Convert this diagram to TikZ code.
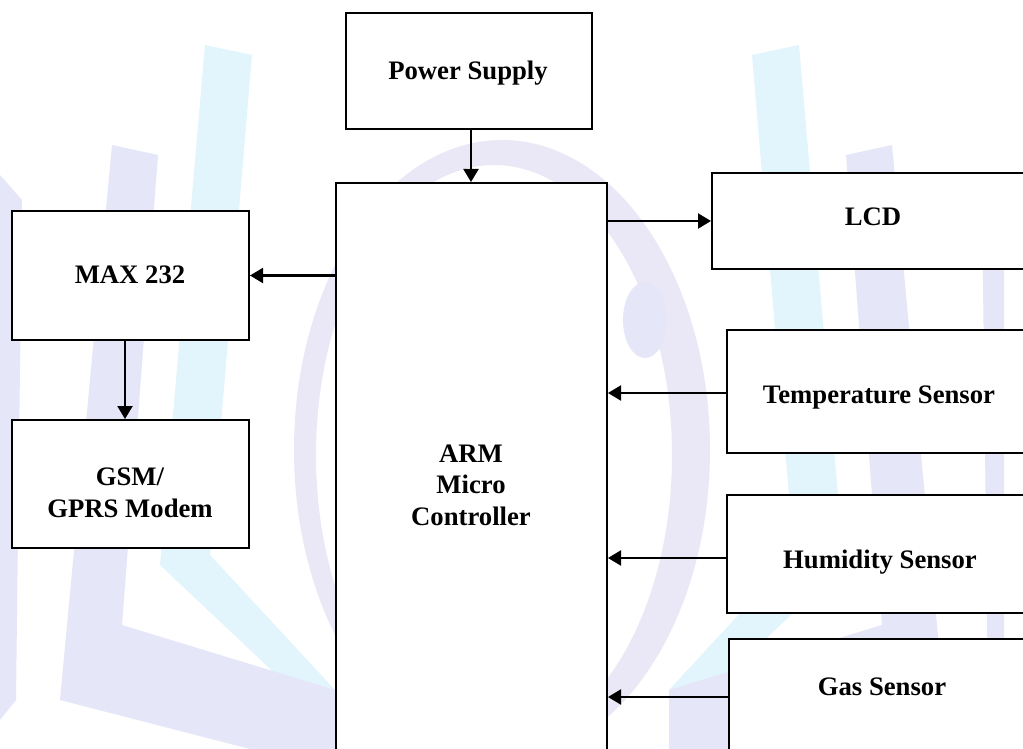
\documentclass[tikz,border=0pt]{standalone}
\usepackage{fontspec}
\setmainfont{Liberation Serif}
\usetikzlibrary{arrows.meta}
\definecolor{wmlav}{RGB}{230,230,249}
\definecolor{wmcyan}{RGB}{226,245,252}
\definecolor{wmring}{RGB}{234,232,246}
\begin{document}
\begin{tikzpicture}[x=1pt,y=-1pt,
  blk/.style={draw=black, line width=2pt, fill=white, rectangle, inner sep=0pt},
  lbl/.style={font=\fontsize{26.7}{31.5}\selectfont\bfseries, align=center, inner sep=0pt, anchor=base},
  conn/.style={line width=2.2pt, -{Triangle[length=13pt,width=15pt]}}]
\clip (0,0) rectangle (1023,749);
\fill[white] (0,0) rectangle (1023,749);
% watermark (faint logo)
\foreach \mir in {0,1}{
  \begin{scope}[shift={(1004*\mir,0)}, xscale={1-2*\mir}]
    \fill[wmcyan] (205,45) -- (252,55) -- (210,555) -- (335,690) -- (335,730) -- (160,565) -- cycle;
    \fill[wmlav] (112,145) -- (158,155) -- (122,625) -- (335,690) -- (335,749) -- (250,749) -- (60,700) -- cycle;
    \fill[wmlav] (0,175) -- (22,200) -- (16,700) -- (0,720) -- cycle;
  \end{scope}
}
\fill[wmring, even odd rule] (502,450) ellipse [x radius=208, y radius=310]
                             (494,455) ellipse [x radius=178, y radius=290];
\fill[wmlav] (645,320) ellipse [x radius=22, y radius=38];
% blocks
\node[blk, minimum width=246pt, minimum height=116pt] (ps) at (469,71) {};
\node[blk, minimum width=271pt, minimum height=597pt] (arm) at (471.5,481.5) {};
\node[blk, minimum width=328pt, minimum height=96pt] (lcd) at (876,221) {};
\node[blk, minimum width=237pt, minimum height=129pt] (max) at (130.5,275.5) {};
\node[blk, minimum width=237pt, minimum height=128pt] (gsm) at (130.5,484) {};
\node[blk, minimum width=313pt, minimum height=123pt] (temp) at (883.5,391.5) {};
\node[blk, minimum width=313pt, minimum height=118pt] (hum) at (883.5,554) {};
\node[blk, minimum width=311pt, minimum height=141pt] (gas) at (884.5,709.5) {};
% labels (multi-line labels: base is the last line)
\node[lbl] (pst) at (468,80) {Power Supply};
\node[lbl] (armt) at (471,525) {ARM\\Micro\\Controller};
\node[lbl] (lcdt) at (873,225) {LCD};
\node[lbl] (maxt) at (130,283) {MAX 232};
\node[lbl] (gsmt) at (130,517) {GSM/\\GPRS Modem};
\node[lbl] (tempt) at (879,403) {Temperature Sensor};
\node[lbl] (humt) at (880,568) {Humidity Sensor};
\node[lbl] (gast) at (882,695) {Gas Sensor};
% connector end points
\coordinate (pso) at ([xshift=2pt]ps.south);
\coordinate (maxo) at ([xshift=-5.5pt]max.south);
\coordinate (tempo) at ([yshift=-1.5pt]temp.west);
\coordinate (humo) at ([yshift=-4pt]hum.west);
\coordinate (gaso) at ([yshift=12.5pt]gas.west);
% connectors
\draw[conn] (pso) -- (pso |- arm.north);
\draw[conn] (arm.east |- lcd.west) -- (lcd.west);
\draw[conn] (arm.west |- max.east) -- (max.east);
\draw[conn] (maxo) -- (maxo |- gsm.north);
\draw[conn] (tempo) -- (arm.east |- tempo);
\draw[conn] (humo) -- (arm.east |- humo);
\draw[conn] (gaso) -- (arm.east |- gaso);
\end{tikzpicture}
\end{document}
